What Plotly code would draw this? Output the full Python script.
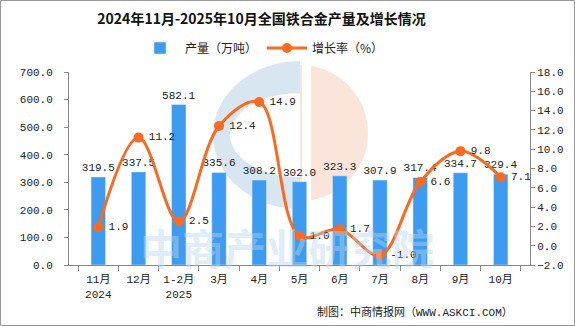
import plotly.graph_objects as go
import math

categories = ["11月<br>2024", "12月", "1-2月<br>2025", "3月", "4月", "5月", "6月", "7月", "8月", "9月", "10月"]
output = [319.5, 337.5, 582.1, 335.6, 308.2, 302.0, 323.3, 307.9, 317.4, 334.7, 329.4]
growth = [1.9, 11.2, 2.5, 12.4, 14.9, 1.0, 1.7, -1.0, 6.6, 9.8, 7.1]
left_ticks = [0, 100, 200, 300, 400, 500, 600, 700]
right_ticks = [-2, 0, 2, 4, 6, 8, 10, 12, 14, 16, 18]

FONT = "Liberation Mono, Noto Sans CJK SC, sans-serif"
BLUE = "#3d9cf0"
ORANGE = "#fb6a1e"

L, T, R, B = 69, 72, 530, 265
PW, PH = R - L, B - T


def px(x):
    return (x - L) / PW


def py(y):
    return (B - y) / PH


fig = go.Figure()
fig.add_trace(go.Bar(
    x=categories, y=output, name="产量（万吨）", marker_color=BLUE,
    text=[f"{v:.1f}" for v in output], textposition="outside", constraintext="none",
    textfont=dict(size=11, color="#222", family=FONT), cliponaxis=False,
    width=0.36, yaxis="y"))
fig.add_trace(go.Scatter(
    x=categories, y=growth, name="增长率（%）", mode="lines+markers+text",
    line=dict(color=ORANGE, width=3, shape="spline", smoothing=1.0),
    marker=dict(color=ORANGE, size=10),
    text=[f"<span style='font-size:5px'> </span>{v:.1f}" for v in growth], textposition="middle right",
    textfont=dict(size=11, color="#222", family=FONT), cliponaxis=False,
    yaxis="y2"))


def path_pts(pts):
    return "M " + " L ".join(f"{px(a):.4f},{py(b):.4f}" for a, b in pts) + " Z"


# watermark logo: blue C (left half ring) and peach right half disk
cx, cy = 300, 135
ts = [i * math.pi / 40 for i in range(41)]
outer = [(cx - 87 * math.sin(t), cy - 74 * math.cos(t)) for t in ts]
inner = [(cx - 70 * math.sin(math.pi - t), cy - 42 * math.cos(math.pi - t)) for t in ts]
fig.add_shape(type="path", xref="paper", yref="paper", path=path_pts(outer + inner[::-1]),
              fillcolor="rgba(175,205,228,0.5)", line_width=0, layer="below")
ocx, ocy, r = 300, 133, 68
half = [(ocx + r * math.sin(t), ocy - r * math.cos(t)) for t in ts]
fig.add_shape(type="path", xref="paper", yref="paper", path=path_pts(half),
              fillcolor="rgba(246,195,172,0.45)", line_width=0, layer="below")
fig.add_shape(type="rect", xref="paper", yref="paper", x0=px(302), x1=px(311), y0=py(205), y1=py(62),
              fillcolor="white", line_width=0, layer="below")
fig.add_annotation(text="<b>中商产业研究院</b>", xref="paper", yref="paper", x=px(287), y=py(246),
                   showarrow=False, font=dict(size=42, color="rgba(185,212,235,0.45)",
                   family="Noto Sans CJK SC"), xanchor="center", yanchor="middle")

fig.add_annotation(text="制图：中商情报网（WWW.ASKCI.COM）", xref="paper", yref="paper",
                   x=px(515), y=py(312), xanchor="right", yanchor="middle",
                   showarrow=False, font=dict(size=11, color="#222", family=FONT))
# border
fig.add_shape(type="rect", xref="paper", yref="paper",
              x0=px(0.5), x1=px(574.5), y0=py(325.5), y1=py(0.5),
              line=dict(color="#999", width=1), layer="above")

fig.update_layout(
    width=575, height=326, margin=dict(l=L, r=575 - R, t=T, b=326 - B),
    paper_bgcolor="white", plot_bgcolor="rgba(0,0,0,0)",
    title=dict(text="<b>2024年11月-2025年10月全国铁合金产量及增长情况</b>", x=261.5 / 575, xanchor="center",
               y=1 - 19 / 326, yanchor="middle", font=dict(size=14, color="#111", family="Noto Sans CJK SC")),
    legend=dict(orientation="h", x=px(262), xanchor="center", y=py(48), yanchor="middle",
                font=dict(size=12, color="#222", family="Noto Sans CJK SC"), itemwidth=40,
                bgcolor="rgba(0,0,0,0)"),
    bargap=0.64,
    xaxis=dict(showline=True, linecolor="#888", ticks="outside", tickcolor="#888", ticklen=5,
               tickson="boundaries", tickangle=0, ticklabelstandoff=4,
               tickfont=dict(size=11, color="#222", family=FONT), showgrid=False),
    yaxis=dict(range=[0, 700], tickvals=left_ticks, tickformat=".1f", showline=True, linecolor="#888",
               ticks="outside", tickcolor="#888", ticklen=4, showgrid=False, zeroline=False,
               ticklabelstandoff=9,
               tickfont=dict(size=11, color="#222", family=FONT)),
    yaxis2=dict(range=[-2, 18], tickvals=right_ticks, tickformat=".1f", overlaying="y", side="right",
                showline=True, linecolor="#888", ticks="outside", tickcolor="#888", ticklen=4,
                showgrid=False, zeroline=False, tickfont=dict(size=11, color="#222", family=FONT)),
)
fig.write_html("out.html")
